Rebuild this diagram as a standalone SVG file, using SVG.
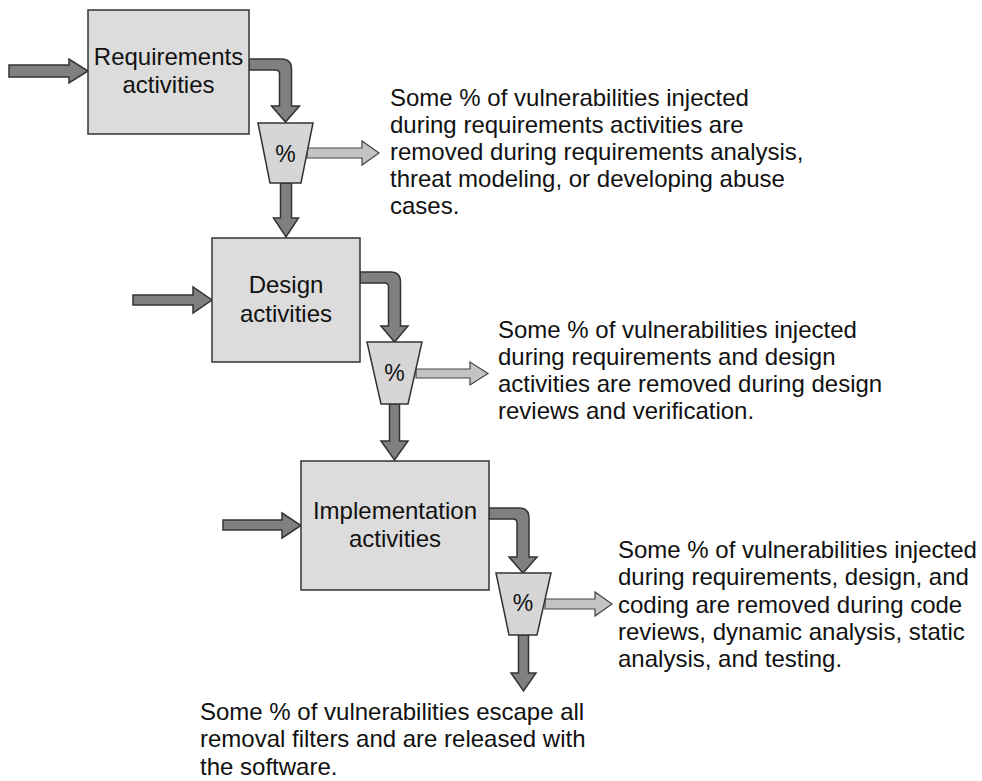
<svg xmlns="http://www.w3.org/2000/svg" width="982" height="781" viewBox="0 0 982 781">
<style>
.box{fill:#dcdcdc;stroke:#333;stroke-width:1.5}
.funnel{fill:#d6d6d6;stroke:#333;stroke-width:1.5}
.dark{fill:#808080;stroke:#333;stroke-width:1.5;stroke-linejoin:miter}
.light{fill:#c4c4c4;stroke:#444;stroke-width:1.2}
text{font-family:"Liberation Sans",Arial,Helvetica,sans-serif;font-size:24px;fill:#111}
.c{text-anchor:middle}
.pct{font-size:23px;text-anchor:middle}
</style>
<rect width="982" height="781" fill="#fff"/>
<g id="connectors">
<path class="dark" d="M9,65 H69 V59 L88,71 L69,83 V77 H9 Z"/>
<path class="dark" d="M133,295 H193 V287 L212,300 L193,313 V305 H133 Z"/>
<path class="dark" d="M223,520 H282 V513 L301,525.5 L282,538 V530 H223 Z"/>
<path class="dark" d="M249,59 H281.5 Q291.5,59 291.5,69 V106 H299.5 L285.5,122 L271.5,106 H279.5 V74 Q279.5,70 275.5,70 H249 Z"/>
<path class="dark" d="M360,272 H390.5 Q400.5,272 400.5,282 V326 H408 L394.5,342 L381,326 H388.5 V287 Q388.5,283 384.5,283 H360 Z"/>
<path class="dark" d="M489,508 H519 Q529,508 529,518 V557 H537 L523,573 L509,557 H517 V523 Q517,519 513,519 H489 Z"/>
<path class="dark" d="M280.5,183 H291.5 V218 H298.5 L286,237 L273.5,218 H280.5 Z"/>
<path class="dark" d="M389.5,404 H399.5 V441 H408 L394.5,460 L381,441 H389.5 Z"/>
<path class="dark" d="M518.5,635 H528.5 V673 H536 L523.5,691 L511,673 H518.5 Z"/>
<path class="light" d="M307,148 H362 V141 L379,153 L362,165 V158 H307 Z"/>
<path class="light" d="M416,369 H470 V362 L488,373.5 L470,385 V378 H416 Z"/>
<path class="light" d="M545,599 H595 V592 L612,604 L595,616 V609 H545 Z"/>
</g>
<g id="requirements">
<rect class="box" x="88" y="10" width="161" height="124"/>
<text class="c" x="168.5" y="65">Requirements</text>
<text class="c" x="168.5" y="93">activities</text>
</g>
<g id="filter1">
<path class="funnel" d="M258,123 H313 L301,183 H270 Z"/>
<text class="pct" x="285.5" y="162">%</text>
</g>
<g id="design">
<rect class="box" x="212" y="238" width="148" height="124"/>
<text class="c" x="286" y="293">Design</text>
<text class="c" x="286" y="321.5">activities</text>
</g>
<g id="filter2">
<path class="funnel" d="M367,342 H422 L408,404 H381 Z"/>
<text class="pct" x="394.5" y="381">%</text>
</g>
<g id="implementation">
<rect class="box" x="301" y="461" width="188" height="129"/>
<text class="c" x="395" y="519">Implementation</text>
<text class="c" x="395" y="547">activities</text>
</g>
<g id="filter3">
<path class="funnel" d="M496,573 H551 L537,635 H509 Z"/>
<text class="pct" x="523" y="611">%</text>
</g>
<g id="note1">
<text x="390" y="106"><tspan x="390">Some % of vulnerabilities injected</tspan><tspan x="390" dy="27">during requirements activities are</tspan><tspan x="390" dy="27">removed during requirements analysis,</tspan><tspan x="390" dy="27">threat modeling, or developing abuse</tspan><tspan x="390" dy="27">cases.</tspan></text>
</g>
<g id="note2">
<text x="498" y="338"><tspan x="498">Some % of vulnerabilities injected</tspan><tspan x="498" dy="27">during requirements and design</tspan><tspan x="498" dy="27">activities are removed during design</tspan><tspan x="498" dy="27">reviews and verification.</tspan></text>
</g>
<g id="note3">
<text x="618" y="558"><tspan x="618">Some % of vulnerabilities injected</tspan><tspan x="618" dy="27.3">during requirements, design, and</tspan><tspan x="618" dy="27.3">coding are removed during code</tspan><tspan x="618" dy="27.3">reviews, dynamic analysis, static</tspan><tspan x="618" dy="27.3">analysis, and testing.</tspan></text>
</g>
<g id="note4">
<text x="200" y="720"><tspan x="200">Some % of vulnerabilities escape all</tspan><tspan x="200" dy="27.3">removal filters and are released with</tspan><tspan x="200" dy="27.3">the software.</tspan></text>
</g>
</svg>
